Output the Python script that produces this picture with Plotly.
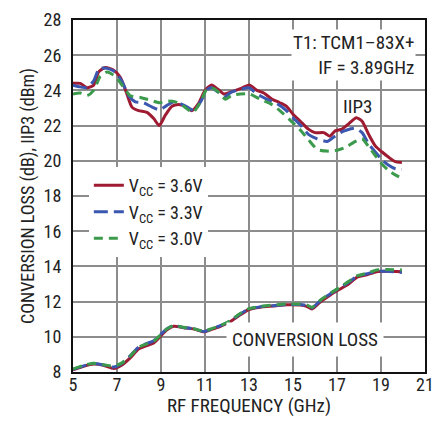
import plotly.graph_objects as go

# IIP3 data (dBm)
f_red = [5.0, 5.33, 5.64, 5.94, 6.17, 6.47, 6.85, 7.15, 7.45, 7.68, 7.98, 8.36, 8.67, 8.92, 9.2, 9.5, 9.8, 10.1, 10.4, 10.7, 11.0, 11.3, 11.6, 11.85, 12.15, 12.6, 13.03, 13.36, 13.67, 14.05, 14.4, 14.7, 15.0, 15.33, 15.7, 16.0, 16.4, 16.67, 16.92, 17.23, 17.53, 17.88, 18.14, 18.44, 18.74, 19.05, 19.35, 19.65, 19.95]
iip3_36 = [24.4, 24.4, 24.15, 24.3, 25.05, 25.3, 25.15, 24.75, 23.8, 23.05, 22.85, 22.75, 22.4, 22.0, 22.6, 23.1, 23.2, 23.1, 22.85, 23.25, 24.0, 24.3, 24.05, 23.8, 23.9, 24.1, 24.3, 24.0, 23.85, 23.5, 23.3, 23.1, 22.65, 22.25, 21.8, 21.6, 21.6, 21.4, 21.7, 21.8, 22.1, 22.45, 22.25, 21.5, 20.85, 20.5, 20.2, 19.95, 19.9]

f_blue = [5.0, 5.33, 5.64, 5.94, 6.2, 6.55, 6.92, 7.23, 7.53, 7.83, 8.2, 8.6, 8.92, 9.27, 9.58, 9.88, 10.2, 10.5, 10.8, 11.1, 11.3, 11.6, 11.9, 12.2, 12.6, 13.0, 13.36, 13.8, 14.27, 14.7, 15.0, 15.4, 15.7, 16.1, 16.55, 16.85, 17.15, 17.45, 17.83, 18.14, 18.44, 18.74, 19.05, 19.35, 19.65, 19.95]
iip3_33 = [24.3, 24.2, 24.15, 24.55, 25.25, 25.25, 25.05, 24.5, 23.7, 23.35, 23.3, 23.05, 22.9, 23.15, 23.35, 23.25, 23.05, 22.85, 23.35, 24.05, 24.15, 23.9, 23.65, 23.9, 24.05, 24.15, 23.8, 23.5, 23.25, 22.85, 22.45, 21.95, 21.5, 21.25, 21.1, 21.35, 21.6, 21.75, 21.85, 21.6, 20.95, 20.5, 20.05, 19.75, 19.55, 19.5]

f_green = [5.0, 5.33, 5.64, 5.94, 6.24, 6.55, 6.92, 7.23, 7.6, 8.06, 8.5, 8.92, 9.27, 9.65, 10.03, 10.45, 10.8, 11.1, 11.4, 11.7, 11.92, 12.2, 12.6, 13.03, 13.5, 13.97, 14.4, 14.88, 15.33, 15.7, 16.1, 16.55, 17.0, 17.45, 17.76, 18.14, 18.44, 18.74, 19.05, 19.35, 19.65, 19.95]
iip3_30 = [23.8, 23.85, 23.7, 24.0, 24.8, 25.05, 24.8, 24.3, 23.7, 23.6, 23.45, 23.3, 23.4, 23.35, 23.1, 22.75, 23.35, 24.1, 24.1, 23.8, 23.5, 23.7, 23.8, 23.8, 23.5, 23.25, 22.85, 22.3, 21.75, 21.2, 20.65, 20.55, 20.6, 20.8, 21.05, 21.25, 20.8, 20.3, 19.8, 19.45, 19.2, 19.0]

# Conversion loss (dB)
f_cl = [5.0, 5.48, 5.94, 6.39, 6.85, 7.23, 7.6, 7.98, 8.36, 8.67, 8.97, 9.27, 9.58, 10.03, 10.5, 10.94, 11.3, 11.7, 12.15, 12.6, 13.0, 13.5, 14.1, 14.7, 15.33, 15.64, 15.86, 16.24, 16.7, 17.15, 17.53, 17.9, 18.36, 18.8, 19.27, 19.95]
cl_36 = [8.12, 8.32, 8.45, 8.38, 8.2, 8.4, 8.8, 9.3, 9.5, 9.65, 10.02, 10.4, 10.6, 10.52, 10.44, 10.28, 10.42, 10.6, 10.86, 11.25, 11.55, 11.68, 11.75, 11.82, 11.8, 11.72, 11.58, 11.98, 12.38, 12.72, 13.0, 13.38, 13.52, 13.7, 13.72, 13.7]
cl_33 = [8.15, 8.35, 8.48, 8.4, 8.28, 8.5, 8.92, 9.42, 9.62, 9.78, 10.12, 10.46, 10.63, 10.53, 10.45, 10.3, 10.45, 10.63, 10.9, 11.3, 11.58, 11.7, 11.77, 11.83, 11.83, 11.77, 11.64, 12.05, 12.45, 12.8, 13.1, 13.43, 13.58, 13.72, 13.72, 13.65]
cl_30 = [8.17, 8.38, 8.5, 8.42, 8.33, 8.52, 8.9, 9.4, 9.6, 9.75, 10.1, 10.45, 10.64, 10.54, 10.46, 10.32, 10.46, 10.64, 10.92, 11.32, 11.6, 11.72, 11.8, 11.86, 11.86, 11.8, 11.68, 12.08, 12.48, 12.83, 13.15, 13.46, 13.62, 13.8, 13.82, 13.8]

x_ticks = [5, 7, 9, 11, 13, 15, 17, 19, 21]
y_ticks = [8, 10, 12, 14, 16, 18, 20, 22, 24, 26, 28]
legend_names = ["V<sub>CC</sub> = 3.6V", "V<sub>CC</sub> = 3.3V", "V<sub>CC</sub> = 3.0V"]

RED = "#9e1b32"
BLUE = "#3b57b0"
GREEN = "#3c9a4c"
FONT = "Liberation Sans Narrow, Arial Narrow, Roboto Condensed, Liberation Sans, sans-serif"
TXT = "#222"

fig = go.Figure()

series = [
    (f_red, iip3_36, cl_36, RED, "solid"),
    (f_blue, iip3_33, cl_33, BLUE, "14px,6px"),
    (f_green, iip3_30, cl_30, GREEN, "9px,6px"),
]
for (fx, fy, cy, col, d), name in zip(series, legend_names):
    fig.add_trace(go.Scatter(x=fx, y=fy, mode="lines", name=name,
                             line=dict(color=col, width=3, dash=d, shape="spline", smoothing=0.6),
                             legendgroup=name))
    fig.add_trace(go.Scatter(x=f_cl, y=cy, mode="lines", name=name, showlegend=False,
                             line=dict(color=col, width=3, dash=d, shape="spline", smoothing=0.6),
                             legendgroup=name))

fig.update_layout(
    width=426, height=409,
    margin=dict(l=65, r=9, t=12, b=45, autoexpand=False),
    plot_bgcolor="white", paper_bgcolor="white",
    font=dict(family=FONT, size=18, color=TXT),
    showlegend=True,
    legend=dict(x=0.045, y=0.582, xanchor="left", yanchor="top",
                bgcolor="white", font=dict(size=18, color=TXT),
                tracegroupgap=0, borderwidth=0),
    xaxis=dict(range=[5, 21], tickvals=x_ticks, ticks="", showgrid=True,
               gridcolor="#8c8c8c", gridwidth=1.5, zeroline=False,
               showline=True, linecolor="#111", linewidth=2, mirror=True,
               title=dict(text="RF FREQUENCY (GHz)", font=dict(size=19), standoff=13),
               tickfont=dict(size=18), ticklabelstandoff=-5, automargin=False),
    yaxis=dict(range=[8, 28], tickvals=y_ticks, ticks="", showgrid=True,
               gridcolor="#8c8c8c", gridwidth=1.5, zeroline=False,
               showline=True, linecolor="#111", linewidth=2, mirror=True,
               title=dict(text="CONVERSION LOSS (dB), IIP3 (dBm)", font=dict(size=18), standoff=4),
               tickfont=dict(size=18), ticklabelstandoff=6, automargin=False),
)

fig.add_annotation(x=0.975, y=0.975, xref="paper", yref="paper", xanchor="right", yanchor="top",
                   text="T1: TCM1–83X+<br>IF = 3.89GHz", align="right", showarrow=False,
                   bgcolor="white", font=dict(size=19, color=TXT))
fig.add_annotation(x=17.95, y=23.1, xref="x", yref="y", text="IIP3", showarrow=False,
                   font=dict(size=19, color=TXT))
fig.add_annotation(x=15.55, y=9.85, xref="x", yref="y", text="CONVERSION LOSS", showarrow=False,
                   bgcolor="white", borderpad=5, font=dict(size=19, color=TXT))

fig.write_html("out.html")
